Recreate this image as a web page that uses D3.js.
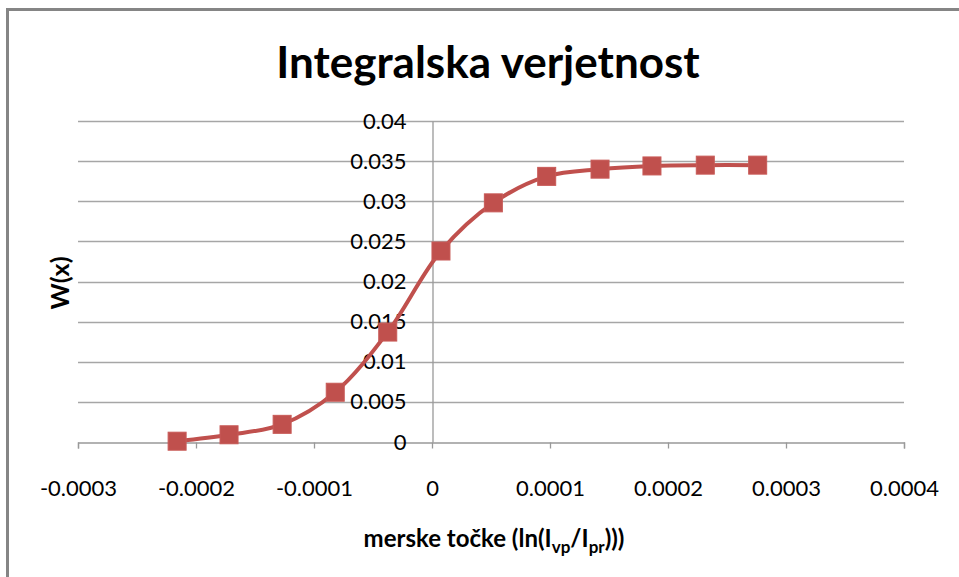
<!DOCTYPE html>
<html>
<head>
<meta charset="utf-8">
<script src="https://cdn.jsdelivr.net/npm/d3@7"></script>
<style>
  body { margin: 0; background: #fff; }
  text { font-family: Lato, "Open Sans", sans-serif; fill: #000; }
</style>
</head>
<body>
<div class="chart"></div>
<script>
// measured points (x = ln(Ivp/Ipr), y = W(x))
const xValues = [-0.000216, -0.000172, -0.000127, -0.000082, -0.0000375, 0.0000076,
                 0.000052, 0.0000972, 0.0001424, 0.0001864, 0.0002316, 0.000276];
const wValues = [0.0001, 0.0009, 0.0022, 0.0062, 0.0137, 0.0238,
                 0.0298, 0.0331, 0.0340, 0.0344, 0.0345, 0.0345];
const xTicks = [-0.0003, -0.0002, -0.0001, 0, 0.0001, 0.0002, 0.0003, 0.0004];
const yTicks = [0, 0.005, 0.01, 0.015, 0.02, 0.025, 0.03, 0.035, 0.04];
const xTickLabels = ['-0.0003', '-0.0002', '-0.0001', '0', '0.0001', '0.0002', '0.0003', '0.0004'];
const yTickLabels = ['0', '0.005', '0.01', '0.015', '0.02', '0.025', '0.03', '0.035', '0.04'];

const width = 959,
    height = 577,
    red = '#c0504d';

const svg = d3.select('.chart')
    .append('svg')
    .attr('width', width)
    .attr('height', height);

// chart frame
svg.append('rect')
    .attr('x', 7.5).attr('y', 9.5)
    .attr('width', 960).attr('height', 580)
    .attr('fill', 'none')
    .attr('stroke', '#858585')
    .attr('stroke-width', 3);

const x = d3.scaleLinear().domain([-0.0003, 0.0004]).range([78, 904]);
const y = d3.scaleLinear().domain([0, 0.04]).range([442, 121]);

// horizontal gridlines
svg.append('g')
    .selectAll('line')
    .data(yTicks.slice(1))
    .enter().append('line')
    .attr('x1', x(-0.0003)).attr('x2', x(0.0004))
    .attr('y1', d => Math.round(y(d)) + 0.5)
    .attr('y2', d => Math.round(y(d)) + 0.5)
    .attr('stroke', '#a6a6a6')
    .attr('stroke-width', 1.3);

// x axis (at y = 0)
const xAxis = svg.append('g')
    .attr('transform', `translate(0,${Math.round(y(0)) + 0.5})`)
    .call(d3.axisBottom(x).tickValues(xTicks).tickSize(6).tickFormat((d, i) => xTickLabels[i]));
xAxis.select('.domain').attr('stroke', '#999').attr('stroke-width', 1.3);
xAxis.selectAll('.tick line').attr('stroke', '#999').attr('stroke-width', 1.3);
xAxis.selectAll('.tick text')
    .attr('y', 46)
    .attr('dy', '0.32em')
    .style('font-size', '22px');

// y axis (at x = 0)
const yAxis = svg.append('g')
    .attr('transform', `translate(${Math.round(x(0)) + 0.5},0)`)
    .call(d3.axisLeft(y).tickValues(yTicks).tickSize(0).tickFormat((d, i) => yTickLabels[i]));
yAxis.select('.domain').attr('stroke', '#999').attr('stroke-width', 1.3);
yAxis.selectAll('.tick text')
    .attr('x', -26)
    .style('font-size', '22px');

// smoothed series line
const line = d3.line()
    .x(d => x(d[0]))
    .y(d => y(d[1]))
    .curve(d3.curveCatmullRom.alpha(0.5));

const points = xValues.map((v, i) => [v, wValues[i]]);

svg.append('path')
    .datum(points)
    .attr('d', line)
    .attr('fill', 'none')
    .attr('stroke', red)
    .attr('stroke-width', 4)
    .attr('stroke-linejoin', 'round');

svg.append('g')
    .selectAll('rect')
    .data(points)
    .enter().append('rect')
    .attr('x', d => x(d[0]) - 9)
    .attr('y', d => y(d[1]) - 9)
    .attr('width', 18)
    .attr('height', 18)
    .attr('fill', red)
    .attr('stroke', '#c85a57')
    .attr('stroke-width', 1);

// titles
svg.append('text')
    .attr('x', 488).attr('y', 78)
    .attr('text-anchor', 'middle')
    .style('font-size', '44px')
    .style('font-weight', 'bold')
    .text('Integralska verjetnost');

svg.append('text')
    .attr('transform', 'translate(69,283) rotate(-90)')
    .attr('text-anchor', 'middle')
    .style('font-size', '25px')
    .style('font-weight', 'bold')
    .text('W(x)');

const xTitle = svg.append('text')
    .attr('x', 494).attr('y', 547)
    .attr('text-anchor', 'middle')
    .style('font-size', '24px')
    .style('font-weight', 'bold');
xTitle.append('tspan').text('merske točke (ln(I');
xTitle.append('tspan').attr('dy', 6).style('font-size', '17px').text('vp');
xTitle.append('tspan').attr('dy', -6).text('/I');
xTitle.append('tspan').attr('dy', 6).style('font-size', '17px').text('pr');
xTitle.append('tspan').attr('dy', -6).text(')))');
</script>
</body>
</html>
